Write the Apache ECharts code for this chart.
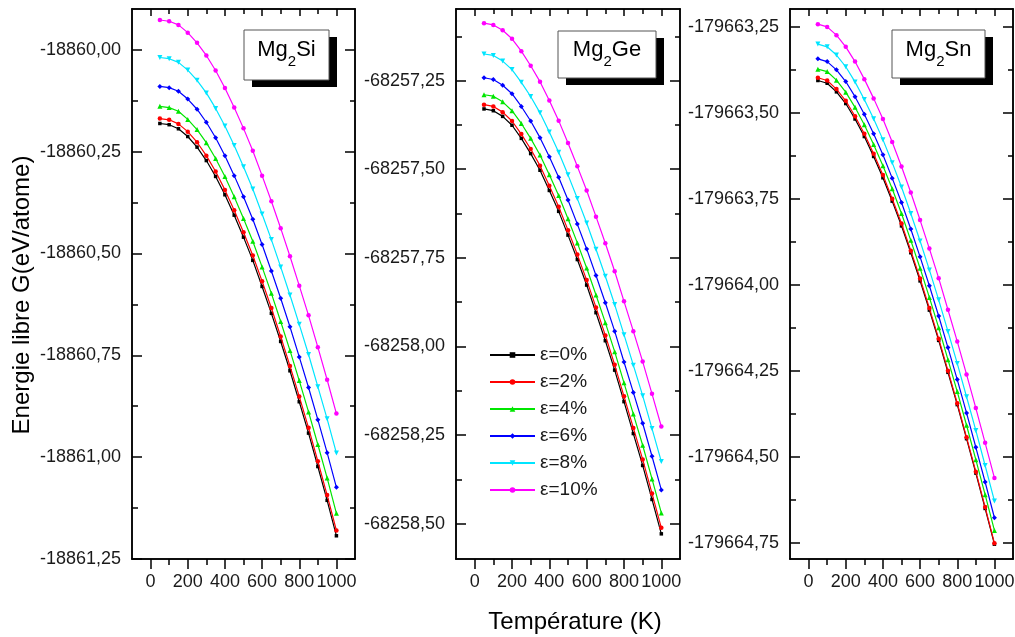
<!DOCTYPE html>
<html><head><meta charset="utf-8">
<script src="https://cdn.jsdelivr.net/npm/echarts@6.0.0/dist/echarts.min.js"></script>
<style>html,body{margin:0;padding:0;background:#fff}#c{width:1015px;height:637px}</style>
</head><body><div id="c"></div><script>
// Temperature (K)
const temps = [50,100,150,200,250,300,350,400,450,500,550,600,650,700,750,800,850,900,950,1000];
const strainNames = ['ε=0%','ε=2%','ε=4%','ε=6%','ε=8%','ε=10%'];

// Mg2Si free energy (eV/atome)
const si_0  = [-18860.181,-18860.184,-18860.194,-18860.213,-18860.239,-18860.272,-18860.311,-18860.356,-18860.406,-18860.460,-18860.517,-18860.581,-18860.647,-18860.716,-18860.788,-18860.864,-18860.941,-18861.023,-18861.106,-18861.193];
const si_2  = [-18860.169,-18860.172,-18860.182,-18860.201,-18860.227,-18860.260,-18860.299,-18860.344,-18860.394,-18860.448,-18860.505,-18860.568,-18860.634,-18860.704,-18860.776,-18860.851,-18860.928,-18861.010,-18861.093,-18861.180];
const si_4  = [-18860.139,-18860.142,-18860.151,-18860.171,-18860.196,-18860.228,-18860.267,-18860.311,-18860.361,-18860.414,-18860.470,-18860.533,-18860.598,-18860.667,-18860.738,-18860.812,-18860.889,-18860.969,-18861.051,-18861.138];
const si_6  = [-18860.090,-18860.093,-18860.102,-18860.121,-18860.146,-18860.178,-18860.216,-18860.260,-18860.309,-18860.361,-18860.416,-18860.478,-18860.543,-18860.610,-18860.680,-18860.754,-18860.829,-18860.908,-18860.989,-18861.074];
const si_8  = [-18860.019,-18860.022,-18860.031,-18860.050,-18860.075,-18860.106,-18860.144,-18860.187,-18860.235,-18860.287,-18860.342,-18860.403,-18860.466,-18860.533,-18860.602,-18860.674,-18860.748,-18860.827,-18860.906,-18860.990];
const si_10 = [-18859.927,-18859.930,-18859.939,-18859.958,-18859.983,-18860.014,-18860.051,-18860.094,-18860.142,-18860.193,-18860.248,-18860.309,-18860.372,-18860.438,-18860.507,-18860.579,-18860.652,-18860.730,-18860.810,-18860.893];

// Mg2Ge
const ge_0  = [-68257.330,-68257.335,-68257.351,-68257.376,-68257.413,-68257.456,-68257.503,-68257.560,-68257.619,-68257.686,-68257.755,-68257.827,-68257.905,-68257.984,-68258.067,-68258.156,-68258.246,-68258.336,-68258.432,-68258.529];
const ge_2  = [-68257.318,-68257.323,-68257.339,-68257.364,-68257.401,-68257.443,-68257.490,-68257.547,-68257.606,-68257.672,-68257.741,-68257.813,-68257.890,-68257.969,-68258.052,-68258.141,-68258.230,-68258.319,-68258.415,-68258.512];
const ge_4  = [-68257.290,-68257.294,-68257.310,-68257.335,-68257.371,-68257.413,-68257.460,-68257.516,-68257.574,-68257.640,-68257.708,-68257.779,-68257.855,-68257.933,-68258.015,-68258.103,-68258.191,-68258.279,-68258.374,-68258.470];
const ge_6  = [-68257.242,-68257.247,-68257.263,-68257.287,-68257.323,-68257.364,-68257.411,-68257.465,-68257.523,-68257.587,-68257.655,-68257.725,-68257.800,-68257.877,-68257.957,-68258.044,-68258.130,-68258.217,-68258.310,-68258.405];
const ge_8  = [-68257.175,-68257.179,-68257.195,-68257.219,-68257.255,-68257.295,-68257.341,-68257.395,-68257.452,-68257.516,-68257.583,-68257.652,-68257.726,-68257.802,-68257.882,-68257.967,-68258.053,-68258.139,-68258.232,-68258.325];
const ge_10 = [-68257.088,-68257.093,-68257.108,-68257.132,-68257.167,-68257.208,-68257.253,-68257.306,-68257.363,-68257.426,-68257.492,-68257.560,-68257.634,-68257.709,-68257.788,-68257.873,-68257.957,-68258.043,-68258.134,-68258.226];

// Mg2Sn
const sn_0  = [-179663.405,-179663.413,-179663.438,-179663.472,-179663.517,-179663.568,-179663.626,-179663.688,-179663.756,-179663.828,-179663.906,-179663.988,-179664.073,-179664.161,-179664.254,-179664.348,-179664.447,-179664.547,-179664.650,-179664.754];
const sn_2  = [-179663.397,-179663.405,-179663.430,-179663.464,-179663.509,-179663.560,-179663.618,-179663.680,-179663.749,-179663.821,-179663.900,-179663.981,-179664.067,-179664.156,-179664.249,-179664.344,-179664.443,-179664.543,-179664.646,-179664.751];
const sn_4  = [-179663.372,-179663.379,-179663.404,-179663.439,-179663.483,-179663.534,-179663.591,-179663.653,-179663.720,-179663.792,-179663.870,-179663.951,-179664.036,-179664.124,-179664.217,-179664.310,-179664.408,-179664.508,-179664.610,-179664.714];
const sn_6  = [-179663.342,-179663.350,-179663.374,-179663.408,-179663.452,-179663.503,-179663.560,-179663.621,-179663.689,-179663.760,-179663.837,-179663.918,-179664.002,-179664.090,-179664.182,-179664.275,-179664.372,-179664.472,-179664.573,-179664.677];
const sn_8  = [-179663.299,-179663.307,-179663.331,-179663.365,-179663.409,-179663.460,-179663.516,-179663.577,-179663.644,-179663.715,-179663.792,-179663.872,-179663.956,-179664.043,-179664.135,-179664.228,-179664.325,-179664.423,-179664.525,-179664.628];
const sn_10 = [-179663.241,-179663.249,-179663.273,-179663.307,-179663.350,-179663.401,-179663.457,-179663.517,-179663.584,-179663.655,-179663.731,-179663.811,-179663.894,-179663.980,-179664.072,-179664.164,-179664.260,-179664.358,-179664.459,-179664.561];

// Tick labels
const xMajorTicks = [0,200,400,600,800,1000];
const xMinorTicks = [100,300,500,700,900];
const siTicks = [-18861.25,-18861.00,-18860.75,-18860.50,-18860.25,-18860.00];
const siMinor = [-18861.125,-18860.875,-18860.625,-18860.375,-18860.125];
const geTicks = [-68258.50,-68258.25,-68258.00,-68257.75,-68257.50,-68257.25];
const geMinor = [-68258.375,-68258.125,-68257.875,-68257.625,-68257.375,-68257.125];
const snTicks = [-179664.75,-179664.50,-179664.25,-179664.00,-179663.75,-179663.50,-179663.25];
const snMinor = [-179664.625,-179664.375,-179664.125,-179663.875,-179663.625,-179663.375];

const compoundSuffix = ['Si','Ge','Sn'];
const xTitle = 'Température (K)';
const yTitle = 'Energie libre G(eV/atome)';

const FONT = '"Liberation Sans", Arial, sans-serif';
const colors = ['#000000','#ff0000','#00e600','#0000ff','#00e5ff','#ff00ff'];
const symbols = ['rect','circle','triangle','diamond','triangle','circle'];
const symSizes = [3.5,4.5,5,5,5,4.5];
const symRot = [0,0,0,0,180,0];

const panels = [
  {data:[si_0,si_2,si_4,si_6,si_8,si_10], min:-18861.25, max:-18859.90, major:siTicks, minor:siMinor, left:132, width:223},
  {data:[ge_0,ge_2,ge_4,ge_6,ge_8,ge_10], min:-68258.600, max:-68257.048, major:geTicks, minor:geMinor, left:456, width:224},
  {data:[sn_0,sn_2,sn_4,sn_6,sn_8,sn_10], min:-179664.797, max:-179663.197, major:snTicks, minor:snMinor, left:790, width:223}
];
const boxes = [
  {x:244, y:30, w:85, h:50},
  {x:558, y:31, w:98, h:47},
  {x:892, y:30, w:93, h:48}
];

const lineCol = '#000';
const grids = [], xAxes = [], yAxes = [], series = [], graphics = [];
panels.forEach((p, gi) => {
  grids.push({left:p.left, top:9, width:p.width, height:550, containLabel:false, outerBoundsMode:'none', show:false});
  const xb = {type:'value', gridIndex:gi, min:-100, max:1100, splitLine:{show:false}, minorTick:{show:false},
    axisLine:{show:true, onZero:false, lineStyle:{color:lineCol, width:1.5}}};
  xAxes.push(
    Object.assign({}, xb, {position:'bottom',
      axisTick:{show:true, inside:false, length:10, customValues:xMajorTicks, lineStyle:{color:lineCol, width:1.5}},
      axisLabel:{show:true, customValues:xMajorTicks, formatter:v=>String(v), fontSize:18, color:'#1a1a1a', margin:14, fontFamily:FONT, hideOverlap:false}}),
    Object.assign({}, xb, {position:'bottom',
      axisTick:{show:true, inside:false, length:6, customValues:xMinorTicks, lineStyle:{color:lineCol, width:1.5}},
      axisLabel:{show:false}}),
    Object.assign({}, xb, {position:'top',
      axisTick:{show:true, inside:true, length:7, customValues:xMajorTicks, lineStyle:{color:lineCol, width:1.5}},
      axisLabel:{show:false}}),
    Object.assign({}, xb, {position:'top',
      axisTick:{show:true, inside:true, length:5, customValues:xMinorTicks, lineStyle:{color:lineCol, width:1.5}},
      axisLabel:{show:false}})
  );
  const yb = {type:'value', gridIndex:gi, min:p.min, max:p.max, scale:true, splitLine:{show:false}, minorTick:{show:false},
    axisLine:{show:true, onZero:false, lineStyle:{color:lineCol, width:1.5}}};
  yAxes.push(
    Object.assign({}, yb, {position:'left',
      axisTick:{show:true, inside:true, length:10, customValues:p.major, lineStyle:{color:lineCol, width:1.5}},
      axisLabel:{show:true, customValues:p.major, formatter:v=>v.toFixed(2).replace('.', ','), fontSize:18, color:'#1a1a1a', margin:11, fontFamily:FONT}}),
    Object.assign({}, yb, {position:'left',
      axisTick:{show:true, inside:true, length:6, customValues:p.minor, lineStyle:{color:lineCol, width:1.5}},
      axisLabel:{show:false}}),
    Object.assign({}, yb, {position:'right',
      axisTick:{show:true, inside:true, length:10, customValues:p.major, lineStyle:{color:lineCol, width:1.5}},
      axisLabel:{show:false}}),
    Object.assign({}, yb, {position:'right',
      axisTick:{show:true, inside:true, length:5, customValues:p.minor, lineStyle:{color:lineCol, width:1.5}},
      axisLabel:{show:false}})
  );
  p.data.forEach((arr, si) => {
    series.push({
      name:strainNames[si], type:'line', xAxisIndex:gi*4, yAxisIndex:gi*4,
      data:temps.map((t,i)=>[t, arr[i]]),
      symbol:symbols[si], symbolSize:symSizes[si], symbolRotate:symRot[si], showSymbol:true,
      lineStyle:{color:colors[si], width:1.2}, itemStyle:{color:colors[si]},
      emphasis:{disabled:true}, animation:false, z:2+si
    });
  });
  const b = boxes[gi];
  graphics.push(
    {type:'rect', shape:{x:b.x+8, y:b.y+7, width:b.w, height:b.h}, style:{fill:'#000'}, z:10},
    {type:'rect', shape:{x:b.x, y:b.y, width:b.w, height:b.h}, style:{fill:'#fff', stroke:'#555', lineWidth:1}, z:11},
    {type:'text', x:b.x + b.w/2, y:50, z:12, style:{
      text:'{a|Mg}{s|2}{a|' + compoundSuffix[gi] + '}', align:'center', verticalAlign:'middle',
      rich:{a:{fontSize:22, lineHeight:38, fontFamily:FONT, fill:'#000'},
            s:{fontSize:15, lineHeight:10, verticalAlign:'bottom', fontFamily:FONT, fill:'#000'}}}}
  );
});
graphics.push(
  {type:'text', x:22, y:295, rotation:Math.PI/2, style:{text:yTitle, fontSize:24, fontFamily:FONT, fill:'#000', align:'center', verticalAlign:'middle'}},
  {type:'text', x:575, y:622, style:{text:xTitle, fontSize:24, fontFamily:FONT, fill:'#000', align:'center', verticalAlign:'middle'}}
);

const chart = echarts.init(document.getElementById('c'), null, {renderer:'canvas'});
chart.setOption({
  animation:false,
  backgroundColor:'#fff',
  grid:grids, xAxis:xAxes, yAxis:yAxes, series:series,
  legend:{data:strainNames, orient:'vertical', left:484, top:340, itemWidth:45, itemHeight:7, itemGap:7,
    textStyle:{fontSize:19, fontFamily:FONT, color:'#1a1a1a', lineHeight:20}, selectedMode:false},
  graphic:graphics
});
</script></body></html>
